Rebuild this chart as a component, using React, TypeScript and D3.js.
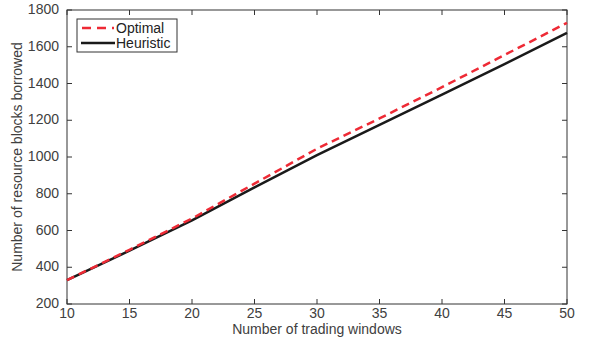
import React, { useEffect, useRef } from "react";
import * as d3 from "d3";

const windows = [10, 15, 20, 25, 30, 35, 40, 45, 50];
const optimal = [330, 495, 665, 855, 1045, 1210, 1380, 1555, 1730];
const heuristic = [330, 490, 655, 835, 1010, 1175, 1340, 1505, 1675];
const xTicks = [10, 15, 20, 25, 30, 35, 40, 45, 50];
const yTicks = [200, 400, 600, 800, 1000, 1200, 1400, 1600, 1800];

const App = () => {
  const ref = useRef<SVGSVGElement>(null);

  useEffect(() => {
    const svg = d3.select(ref.current);
    svg.selectAll("*").remove();

    const width = 590;
    const height = 341;
    const margin = { top: 10, right: 23, bottom: 37, left: 67 };
    const font = "Liberation Sans, Arial, sans-serif";
    const fs = 14;

    const x = d3
      .scaleLinear()
      .domain([10, 50])
      .range([margin.left, width - margin.right]);
    const y = d3
      .scaleLinear()
      .domain([200, 1800])
      .range([height - margin.bottom, margin.top]);

    const axisColor = "#333";
    const textColor = "#404040";

    // frame
    svg
      .append("rect")
      .attr("x", x(10))
      .attr("y", y(1800))
      .attr("width", x(50) - x(10))
      .attr("height", y(200) - y(1800))
      .attr("fill", "none")
      .attr("stroke", axisColor)
      .attr("stroke-width", 1);

    // ticks (inward, all four sides)
    const tl = 5;
    xTicks.forEach((t) => {
      svg
        .append("line")
        .attr("x1", x(t))
        .attr("x2", x(t))
        .attr("y1", y(200))
        .attr("y2", y(200) - tl)
        .attr("stroke", axisColor);
      svg
        .append("line")
        .attr("x1", x(t))
        .attr("x2", x(t))
        .attr("y1", y(1800))
        .attr("y2", y(1800) + tl)
        .attr("stroke", axisColor);
      svg
        .append("text")
        .attr("x", x(t))
        .attr("y", y(200) + 14)
        .attr("text-anchor", "middle")
        .attr("font-family", font)
        .attr("font-size", fs)
        .attr("fill", textColor)
        .text(t);
    });
    yTicks.forEach((t) => {
      svg
        .append("line")
        .attr("x1", x(10))
        .attr("x2", x(10) + tl)
        .attr("y1", y(t))
        .attr("y2", y(t))
        .attr("stroke", axisColor);
      svg
        .append("line")
        .attr("x1", x(50))
        .attr("x2", x(50) - tl)
        .attr("y1", y(t))
        .attr("y2", y(t))
        .attr("stroke", axisColor);
      svg
        .append("text")
        .attr("x", x(10) - 8)
        .attr("y", y(t) + 4)
        .attr("text-anchor", "end")
        .attr("font-family", font)
        .attr("font-size", fs)
        .attr("fill", textColor)
        .text(t);
    });

    // axis labels
    svg
      .append("text")
      .attr("x", (x(10) + x(50)) / 2)
      .attr("y", 334)
      .attr("text-anchor", "middle")
      .attr("font-family", font)
      .attr("font-size", fs)
      .attr("fill", textColor)
      .text("Number of trading windows");
    svg
      .append("text")
      .attr("transform", `translate(22, ${(y(200) + y(1800)) / 2}) rotate(-90)`)
      .attr("text-anchor", "middle")
      .attr("font-family", font)
      .attr("font-size", fs)
      .attr("fill", textColor)
      .text("Number of resource blocks borrowed");

    const line = d3
      .line<number>()
      .x((d, i) => x(windows[i]))
      .y((d) => y(d));

    svg
      .append("path")
      .datum(heuristic)
      .attr("d", line)
      .attr("fill", "none")
      .attr("stroke", "#1a1a1a")
      .attr("stroke-width", 2.5);

    svg
      .append("path")
      .datum(optimal)
      .attr("d", line)
      .attr("fill", "none")
      .attr("stroke", "#ee2a35")
      .attr("stroke-width", 2.5)
      .attr("stroke-dasharray", "8,5");

    // legend
    const lg = svg.append("g").attr("transform", "translate(77, 19)");
    lg.append("rect")
      .attr("width", 100)
      .attr("height", 33)
      .attr("fill", "#fff")
      .attr("stroke", axisColor);
    lg.append("line")
      .attr("x1", 5)
      .attr("x2", 37)
      .attr("y1", 9)
      .attr("y2", 9)
      .attr("stroke", "#ee2a35")
      .attr("stroke-width", 2.5)
      .attr("stroke-dasharray", "9,6");
    lg.append("line")
      .attr("x1", 4)
      .attr("x2", 38)
      .attr("y1", 24)
      .attr("y2", 24)
      .attr("stroke", "#1a1a1a")
      .attr("stroke-width", 2.5);
    lg.append("text")
      .attr("x", 39)
      .attr("y", 14)
      .attr("font-family", font)
      .attr("font-size", fs)
      .attr("fill", "#222")
      .text("Optimal");
    lg.append("text")
      .attr("x", 39)
      .attr("y", 29)
      .attr("font-family", font)
      .attr("font-size", fs)
      .attr("fill", "#222")
      .text("Heuristic");
  }, []);

  return (
    <svg
      ref={ref}
      width={590}
      height={341}
      style={{ position: "absolute", left: 0, top: 0, background: "#fff" }}
    />
  );
};

export default App;
